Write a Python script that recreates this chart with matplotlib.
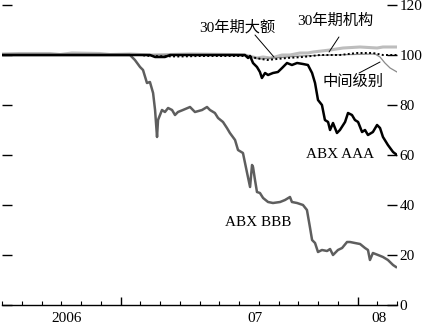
import matplotlib.pyplot as plt
from matplotlib.ticker import MultipleLocator
from matplotlib.transforms import blended_transform_factory

plt.rcParams['font.family'] = ['Liberation Serif', 'Noto Sans CJK SC']

# x = months since July 2006
bbb_x = [0, 6.48, 6.73, 6.99, 7.14, 7.34, 7.49, 7.65, 7.75, 7.85, 7.90, 8.10, 8.25, 8.41,
         8.61, 8.76, 8.91, 9.16, 9.52, 9.77, 10.13, 10.38, 10.53, 10.78, 10.94, 11.19,
         11.39, 11.54, 11.80, 11.95, 12.20, 12.41, 12.56, 12.66, 12.71, 12.81, 12.91,
         13.06, 13.22, 13.47, 13.72, 14.08, 14.33, 14.58, 14.68, 14.94, 15.24, 15.44,
         15.59, 15.70, 15.85, 16.00, 16.20, 16.46, 16.61, 16.76, 17.01, 17.22, 17.47,
         17.62, 17.87, 18.13, 18.38, 18.53, 18.63, 18.78, 19.04, 19.29, 19.54, 19.80, 19.95]
bbb_y = [100, 100, 98, 95.2, 94, 88.8, 89.2, 84.8, 78, 67.2, 74, 78, 77.2, 78.8,
         78, 76, 77.2, 78, 79.2, 77.2, 78, 79.2, 78, 76.8, 74.8, 73.2,
         70.8, 68.8, 66, 62, 60.8, 52.8, 47.2, 56, 55.2, 50, 45.2,
         44.8, 42.8, 41.2, 40.8, 41.2, 42, 43.2, 41.2, 40.8, 40, 38,
         31.2, 26, 24.8, 21.2, 22, 21.6, 22.4, 20, 22, 22.8, 25.2,
         25.2, 24.8, 24.4, 22.8, 22, 18, 20.8, 20, 19.2, 18, 16, 15.2]

aaa_x = [0, 7.49, 7.75, 8.25, 8.51, 12.30, 12.46, 12.56, 12.71, 12.91, 13.06, 13.16,
         13.32, 13.47, 13.72, 13.97, 14.18, 14.43, 14.68, 14.94, 15.24, 15.49, 15.70,
         15.85, 16.00, 16.20, 16.35, 16.51, 16.61, 16.76, 16.96, 17.11, 17.37, 17.52,
         17.72, 17.87, 18.03, 18.23, 18.38, 18.53, 18.78, 18.99, 19.14, 19.29, 19.54,
         19.80, 20.0]
aaa_y = [100, 100, 99.2, 99.2, 100, 100, 98.8, 99.6, 96.8, 95.2, 93.2, 90.8,
         92.8, 92, 92.8, 93.2, 94.8, 96.8, 96, 96.8, 96.4, 96, 92.8,
         88.8, 82, 80, 74, 73.2, 70, 72.8, 68.8, 70, 73.2, 76.8,
         76, 74, 73.2, 69.2, 70, 68, 69.2, 72, 70.8, 67.2, 64,
         61.2, 60]

jumbo_x = [0, 0.91, 2.43, 2.94, 3.54, 4.96, 5.47, 6.48, 7.49, 9.52, 11.54, 12.30, 12.91,
           13.22, 13.57, 13.82, 14.18, 14.58, 15.09, 15.49, 15.75, 16.61, 17.27, 18.13,
           18.99, 19.29, 20.0]
jumbo_y = [100.4, 100.6, 100.6, 100.2, 100.8, 100.6, 100.2, 100.4, 100, 100.4, 100.2, 100,
           98.8, 99.2, 98.8, 99.2, 100, 100, 100.8, 100.8, 101.2, 102, 102.8, 103.2,
           102.8, 103.2, 103.2]

agency_x = [0, 6.99, 7.49, 9.01, 10.03, 12.30, 13.42, 14.43, 15.24, 16.10, 17.11, 17.97,
            18.78, 19.29, 20.0]
agency_y = [100, 100, 99.6, 99.4, 99.6, 99.6, 98, 98.8, 99.2, 100, 100, 100.8,
            100.8, 100, 100]

mid_x = [0, 12.30, 13.06, 14.08, 15.09, 16.61, 18.89, 19.14, 19.39, 19.65, 20.0]
mid_y = [100, 100, 98.4, 99, 99.6, 100, 100.4, 99.2, 96.8, 94.8, 93.2]

year_labels = ['2006', '07', '08']
year_pos = [3.29, 12.81, 19.09]

fig = plt.figure(figsize=(4.24, 3.26), dpi=100)
ax = fig.add_axes([2 / 424, 21 / 326, 395 / 424, 300 / 326])

ax.plot(jumbo_x, jumbo_y, color='#bdbdbd', lw=2.2, zorder=2)
ax.plot(mid_x, mid_y, color='#8a8a8a', lw=0.9, zorder=2)
ax.plot(bbb_x, bbb_y, color='#5e5e5e', lw=1.8, zorder=3)
ax.plot(aaa_x, aaa_y, color='black', lw=1.8, zorder=4)
ax.plot(agency_x, agency_y, color='black', lw=1.4, ls=(0, (1, 1.2)), zorder=5)

ax.set_xlim(0, 20)
ax.set_ylim(0, 120)

for s in ['top', 'left', 'right']:
    ax.spines[s].set_visible(False)
ax.spines['bottom'].set_linewidth(1)

ax.set_xticks([6, 18])
ax.xaxis.set_minor_locator(MultipleLocator(1))
ax.tick_params(axis='x', which='major', direction='in', length=6, width=1, labelbottom=False)
ax.tick_params(axis='x', which='minor', direction='in', length=3, width=0.8)

ax.set_yticks(range(0, 121, 20))
ax.tick_params(axis='y', direction='in', length=7, width=1, left=True, right=True,
               labelleft=False, labelright=True, pad=2, labelsize=11)

trans = blended_transform_factory(ax.transData, ax.transAxes)
for lab, pos in zip(year_labels, year_pos):
    ax.text(pos, -0.045, lab, transform=trans, ha='center', va='center', fontsize=11)

arrow = dict(arrowstyle='-', color='black', lw=0.7, shrinkA=0, shrinkB=0)
ax.text(11.9, 111.2, '30年期大额', ha='center', va='center', fontsize=11)
ax.annotate('', xy=(13.77, 99.2), xytext=(12.81, 108), arrowprops=arrow)
ax.text(16.86, 113.6, '30年期机构', ha='center', va='center', fontsize=11)
ax.annotate('', xy=(16.56, 101.2), xytext=(17.06, 107.2), arrowprops=arrow)
ax.text(17.77, 89.2, '中间级别', ha='center', va='center', fontsize=11)
ax.annotate('', xy=(19.14, 97.2), xytext=(18.08, 92.8), arrowprops=arrow)
ax.text(17.11, 60, 'ABX AAA', ha='center', va='center', fontsize=11)
ax.text(12.96, 33.2, 'ABX BBB', ha='center', va='center', fontsize=11)

fig.savefig('out.png', dpi=100)
